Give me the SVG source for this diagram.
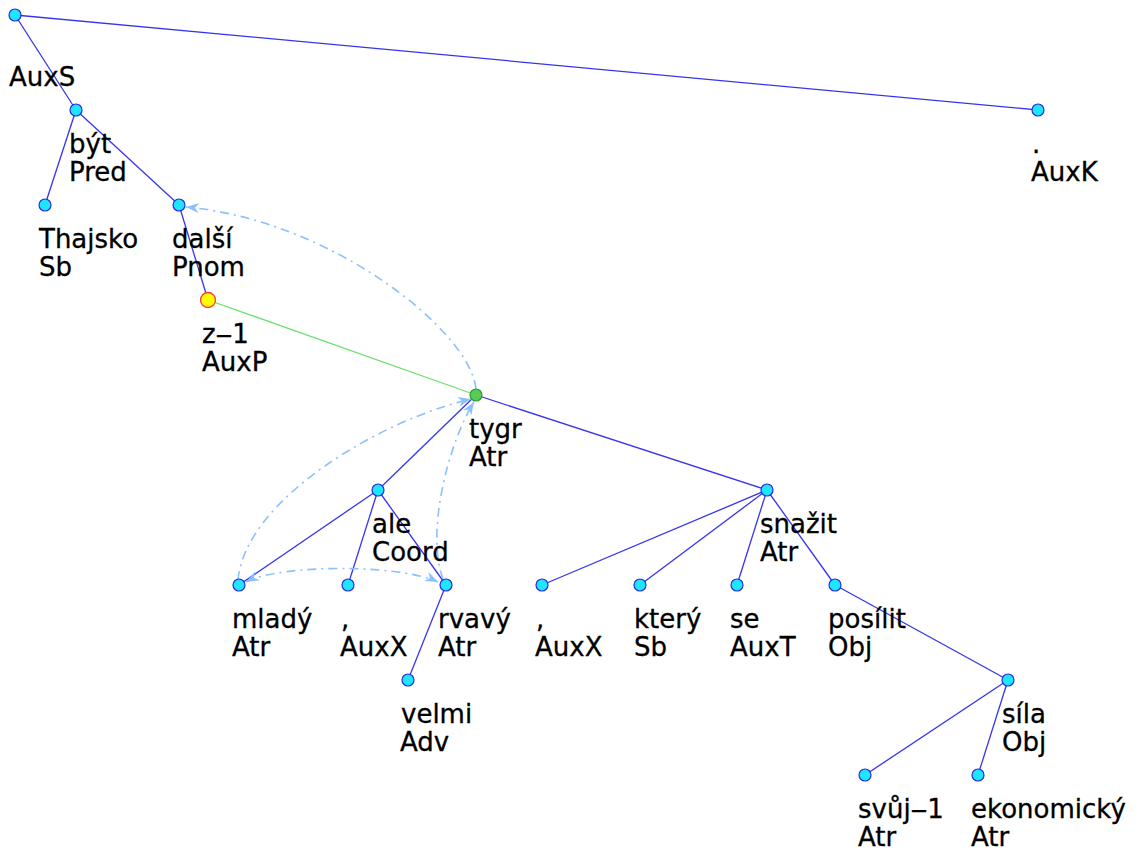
<svg xmlns="http://www.w3.org/2000/svg" width="1140" height="851" viewBox="0 0 1140 851">
<style>
.e{stroke:#3535ee;stroke-width:1.3;fill:none}
.g{stroke:#6ee06e;stroke-width:1.3;fill:none}
.a{stroke:#8cc0ff;stroke-width:1.6;fill:none;stroke-dasharray:9 5 2 5}
.n{fill:#1ee6ff;stroke:#2a2ae0;stroke-width:1.2}
.t{font-family:"DejaVu Sans","Liberation Sans",sans-serif;font-size:26px;fill:#000;stroke:#000;stroke-width:0.3}
</style>
<defs>
<marker id="ar" markerWidth="14" markerHeight="10" refX="13" refY="5" orient="auto-start-reverse" markerUnits="userSpaceOnUse">
<path d="M0,0 L13,5 L0,10 L4,5 z" fill="#8cc0ff"/>
</marker>
</defs>
<rect width="1140" height="851" fill="#fff"/>
<g id="connectors">
<line class="e" x1="15" y1="15" x2="1038" y2="110"/>
<line class="e" x1="15" y1="15" x2="76" y2="110"/>
<line class="e" x1="76" y1="110" x2="45" y2="205"/>
<line class="e" x1="76" y1="110" x2="179" y2="205"/>
<line class="e" x1="179" y1="205" x2="208" y2="300"/>
<line class="g" x1="208" y1="300" x2="476" y2="395"/>
<line class="e" x1="476" y1="395" x2="378" y2="490"/>
<line class="e" x1="476" y1="395" x2="767" y2="490"/>
<line class="e" x1="378" y1="490" x2="239" y2="585"/>
<line class="e" x1="378" y1="490" x2="348" y2="585"/>
<line class="e" x1="378" y1="490" x2="446" y2="585"/>
<line class="e" x1="446" y1="585" x2="408" y2="680"/>
<line class="e" x1="767" y1="490" x2="542" y2="585"/>
<line class="e" x1="767" y1="490" x2="640" y2="585"/>
<line class="e" x1="767" y1="490" x2="737" y2="585"/>
<line class="e" x1="767" y1="490" x2="835" y2="585"/>
<line class="e" x1="835" y1="585" x2="1008" y2="680"/>
<line class="e" x1="1008" y1="680" x2="865" y2="775"/>
<line class="e" x1="1008" y1="680" x2="978" y2="775"/>
<path class="a" d="M476,389 C470,330 330,220 186,207" marker-end="url(#ar)"/>
<path class="a" d="M238,580 C245,500 380,420 471,399" marker-end="url(#ar)"/>
<path class="a" d="M443,579 C425,530 450,440 474,402" marker-end="url(#ar)"/>
<path class="a" d="M246,582 C280,564 400,564 438,582" marker-start="url(#ar)" marker-end="url(#ar)"/>
</g>
<g id="n-root"><circle class="n" cx="15" cy="15" r="6"/><text class="t" x="9" y="86">AuxS</text></g>
<g id="n-auxk"><circle class="n" cx="1038" cy="110" r="6"/><text class="t" x="1032" y="153">.</text><text class="t" x="1031" y="181">AuxK</text></g>
<g id="n-byt"><circle class="n" cx="76" cy="110" r="6"/><text class="t" x="69" y="153">být</text><text class="t" x="69" y="181">Pred</text></g>
<g id="n-thajsko"><circle class="n" cx="45" cy="205" r="6"/><text class="t" x="39" y="248">Thajsko</text><text class="t" x="39" y="276">Sb</text></g>
<g id="n-dalsi"><circle class="n" cx="179" cy="205" r="6"/><text class="t" x="172" y="248">další</text><text class="t" x="172" y="276">Pnom</text></g>
<g id="n-z1"><circle cx="208" cy="300" r="7.5" fill="#ffff00" stroke="#ff3b3b" stroke-width="1.3"/><text class="t" x="202" y="343">z‒1</text><text class="t" x="202" y="371">AuxP</text></g>
<g id="n-tygr"><circle cx="476" cy="395" r="6" fill="#55cc55" stroke="#2f9a2f" stroke-width="1.2"/><text class="t" x="469" y="438">tygr</text><text class="t" x="469" y="466">Atr</text></g>
<g id="n-ale"><circle class="n" cx="378" cy="490" r="6"/><text class="t" x="372" y="533">ale</text><text class="t" x="372" y="561">Coord</text></g>
<g id="n-snazit"><circle class="n" cx="767" cy="490" r="6"/><text class="t" x="760" y="533">snažit</text><text class="t" x="760" y="561">Atr</text></g>
<g id="n-mlady"><circle class="n" cx="239" cy="585" r="6"/><text class="t" x="232" y="628">mladý</text><text class="t" x="232" y="656">Atr</text></g>
<g id="n-auxx1"><circle class="n" cx="348" cy="585" r="6"/><text class="t" x="341" y="628">,</text><text class="t" x="340" y="656">AuxX</text></g>
<g id="n-rvavy"><circle class="n" cx="446" cy="585" r="6"/><text class="t" x="438" y="628">rvavý</text><text class="t" x="438" y="656">Atr</text></g>
<g id="n-velmi"><circle class="n" cx="408" cy="680" r="6"/><text class="t" x="401" y="723">velmi</text><text class="t" x="400" y="751">Adv</text></g>
<g id="n-auxx2"><circle class="n" cx="542" cy="585" r="6"/><text class="t" x="536" y="628">,</text><text class="t" x="535" y="656">AuxX</text></g>
<g id="n-ktery"><circle class="n" cx="640" cy="585" r="6"/><text class="t" x="634" y="628">který</text><text class="t" x="634" y="656">Sb</text></g>
<g id="n-se"><circle class="n" cx="737" cy="585" r="6"/><text class="t" x="730" y="628">se</text><text class="t" x="730" y="656">AuxT</text></g>
<g id="n-posilit"><circle class="n" cx="835" cy="585" r="6"/><text class="t" x="828" y="628">posílit</text><text class="t" x="828" y="656">Obj</text></g>
<g id="n-sila"><circle class="n" cx="1008" cy="680" r="6"/><text class="t" x="1002" y="723">síla</text><text class="t" x="1002" y="751">Obj</text></g>
<g id="n-svuj"><circle class="n" cx="865" cy="775" r="6"/><text class="t" x="858" y="818">svůj‒1</text><text class="t" x="858" y="846">Atr</text></g>
<g id="n-ekonomicky"><circle class="n" cx="978" cy="775" r="6"/><text class="t" x="971" y="818">ekonomický</text><text class="t" x="971" y="846">Atr</text></g>
</svg>
